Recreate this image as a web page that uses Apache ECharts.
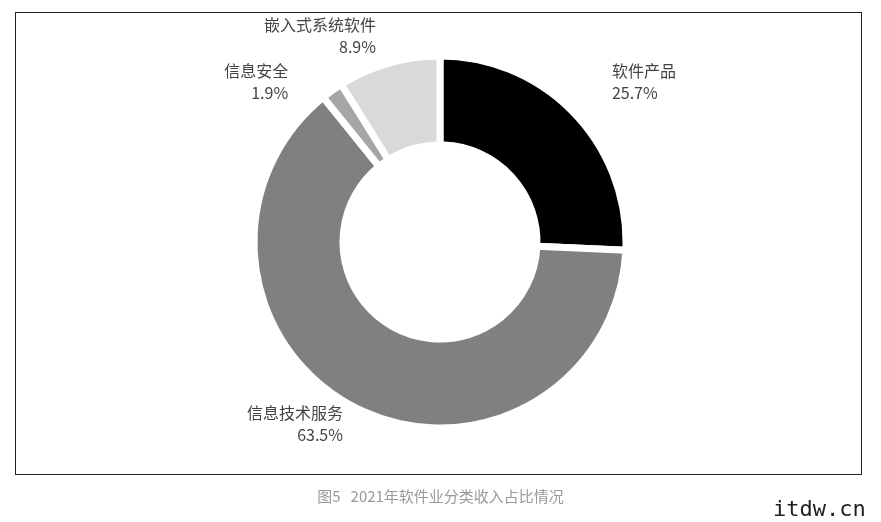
<!DOCTYPE html>
<html><head><meta charset="utf-8">
<script src="https://cdn.jsdelivr.net/npm/echarts@6/dist/echarts.min.js"></script>
<style>body{margin:0;background:#fff;position:relative}#c{width:881px;height:522px}
#box{position:absolute;left:15px;top:12px;width:847px;height:463px;border:1px solid #222;box-sizing:border-box;z-index:5;pointer-events:none}
#wm{position:absolute;left:773px;top:496px;font:22px "DejaVu Sans Mono",monospace;color:#222;z-index:5}</style>
</head><body><div id="c"></div><div id="box"></div>
<script>
const categories=["软件产品","信息技术服务","信息安全","嵌入式系统软件"];
const values=[25.7,63.5,1.9,8.9];
const colors=["#000000","#808080","#a6a6a6","#d9d9d9"];
const labelGap=[45,18,40,28];
const ch=echarts.init(document.getElementById('c'));
ch.setOption({
 animation:false,
 title:{text:"图5   2021年软件业分类收入占比情况",left:'center',top:484,textStyle:{color:'#999',fontSize:15,fontWeight:'normal',fontFamily:'Noto Sans CJK SC'}},
 series:[{type:'pie',center:[440,242],radius:[97,186],startAngle:90,
  itemStyle:{borderColor:'#fff',borderWidth:7},
  label:{formatter:'{b}\n{d}%',color:'#444',fontSize:16,lineHeight:22,align:'center',fontFamily:'Noto Sans CJK SC'},
  labelLine:{show:false,length:30,length2:0},
  data:categories.map((n,i)=>({name:n,value:values[i],itemStyle:{color:colors[i]},labelLine:{show:false,length:labelGap[i],length2:0}}))}]
});
</script>
<div id="wm">itdw.cn</div>
</body></html>
